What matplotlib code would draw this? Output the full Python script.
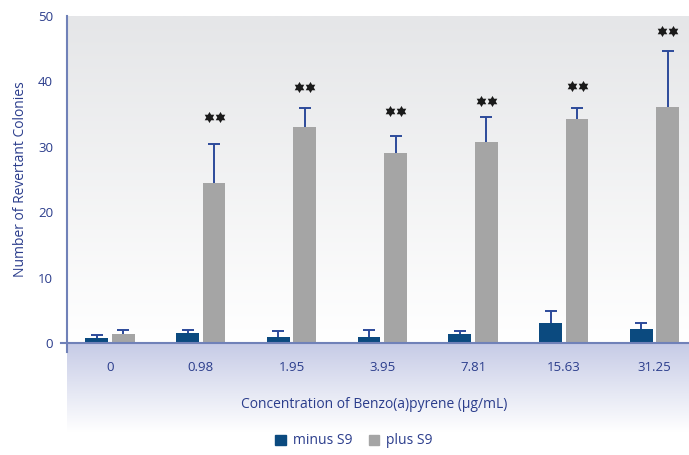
import numpy as np
import matplotlib.pyplot as plt
import matplotlib.transforms as mtransforms
from matplotlib.colors import LinearSegmentedColormap
from matplotlib.patches import Patch
from matplotlib.path import Path

# data
concentrations = ['0', '0.98', '1.95', '3.95', '7.81', '15.63', '31.25']
minus_s9 = [0.8, 1.6, 0.9, 0.9, 1.4, 3.05, 2.1]
minus_s9_err = [0.4, 0.4, 1.0, 1.1, 0.5, 1.8, 1.0]
plus_s9 = [1.4, 24.5, 33.0, 29.05, 30.7, 34.25, 36.1]
plus_s9_err = [0.6, 5.9, 2.9, 2.65, 3.8, 1.65, 8.6]
# height of the "**" significance marks (None = not significant)
star_y = [None, 34.5, 39.1, 35.5, 37.05, 39.25, 47.7]

blue = '#0b4a7f'
grey = '#a5a5a5'
err_col = '#2c4a9a'
txt_col = '#2b3d8c'
axis_col = '#7081b8'

plt.rcParams['font.family'] = ['Open Sans', 'DejaVu Sans']

W, H = 689, 455
fig = plt.figure(figsize=(W / 100, H / 100), dpi=100)

# lavender band under the x axis
band = fig.add_axes([67 / W, (H - 432) / H, 1 - 67 / W, 89 / H])
band_cmap = LinearSegmentedColormap.from_list('band', ['#c6cbe6', '#ffffff'])
band.imshow(np.linspace(0, 1, 256).reshape(-1, 1), aspect='auto', cmap=band_cmap,
            extent=[0, 1, 0, 1], origin='upper')
band.axis('off')

ax = fig.add_axes([67 / W, (H - 343) / H, 1 - 67 / W, 327 / H])
bg_cmap = LinearSegmentedColormap.from_list('bg', ['#ffffff', '#e5e6e8'])
x = np.arange(len(concentrations))
xlim = (-0.474, 6.38)
ax.imshow(np.linspace(0, 1, 256).reshape(-1, 1), aspect='auto', cmap=bg_cmap,
          extent=[xlim[0], xlim[1], 0, 50], origin='lower', zorder=0)

w = 0.253
off = 0.146
for pos, vals, errs, col in [(x - off, minus_s9, minus_s9_err, blue),
                             (x + off, plus_s9, plus_s9_err, grey)]:
    ax.bar(pos, vals, w, color=col, zorder=3)
    eb = ax.errorbar(pos, vals, yerr=[np.zeros(len(x)), errs], fmt='none',
                     ecolor=err_col, elinewidth=1.4, capsize=4, capthick=1.4, zorder=2)
    eb[1][0].set_visible(False)  # no lower cap

# significance stars: two six-pointed stars above each plus-S9 bar
hexagram = Path.unit_regular_star(6, innerCircle=0.577)
sx = np.array([x[i] + off for i, s in enumerate(star_y) if s is not None])
sy = np.array([s for s in star_y if s is not None])
for dx in (-5.5, 5.5):
    tr = ax.transData + mtransforms.ScaledTranslation(dx / 100, 0, fig.dpi_scale_trans)
    ax.plot(sx, sy, ls='none', marker=hexagram, ms=8, color='#1a1a1a', mew=0,
            transform=tr, zorder=5)

ax.set_xlim(*xlim)
ax.set_ylim(0, 50)
ax.set_yticks(range(0, 51, 10))
ax.set_xticks(x)
ax.set_xticklabels(concentrations)
ax.tick_params(axis='both', length=0, labelsize=9.5, labelcolor=txt_col)
ax.tick_params(axis='x', pad=13)
ax.tick_params(axis='y', pad=10)
for s in ['top', 'right', 'bottom', 'left']:
    ax.spines[s].set_visible(False)

# axis lines, slightly overshooting like the reference
ax.plot([-0.54, xlim[1]], [0, 0], color=axis_col, lw=1.5, clip_on=False, zorder=4)
ax.plot([xlim[0], xlim[0]], [-1.4, 50], color=axis_col, lw=1.5, clip_on=False, zorder=4)

ax.set_ylabel('Number of Revertant Colonies', fontsize=10, color=txt_col, labelpad=7)
fig.text((67 + 689) / 2 / W - 0.005, 1 - 405 / H, 'Concentration of Benzo(a)pyrene (\u00b5g/mL)',
         ha='center', va='center', fontsize=10, color=txt_col)

handles = [Patch(color=blue, label='minus S9'), Patch(color=grey, label='plus S9')]
fig.legend(handles=handles, loc='center', bbox_to_anchor=(354 / W, 1 - 441 / H), ncol=2,
           frameon=False, fontsize=10, labelcolor=txt_col, handlelength=0.75,
           handleheight=0.75, handletextpad=0.5, columnspacing=1.2)

fig.savefig('out.png', dpi=100)
